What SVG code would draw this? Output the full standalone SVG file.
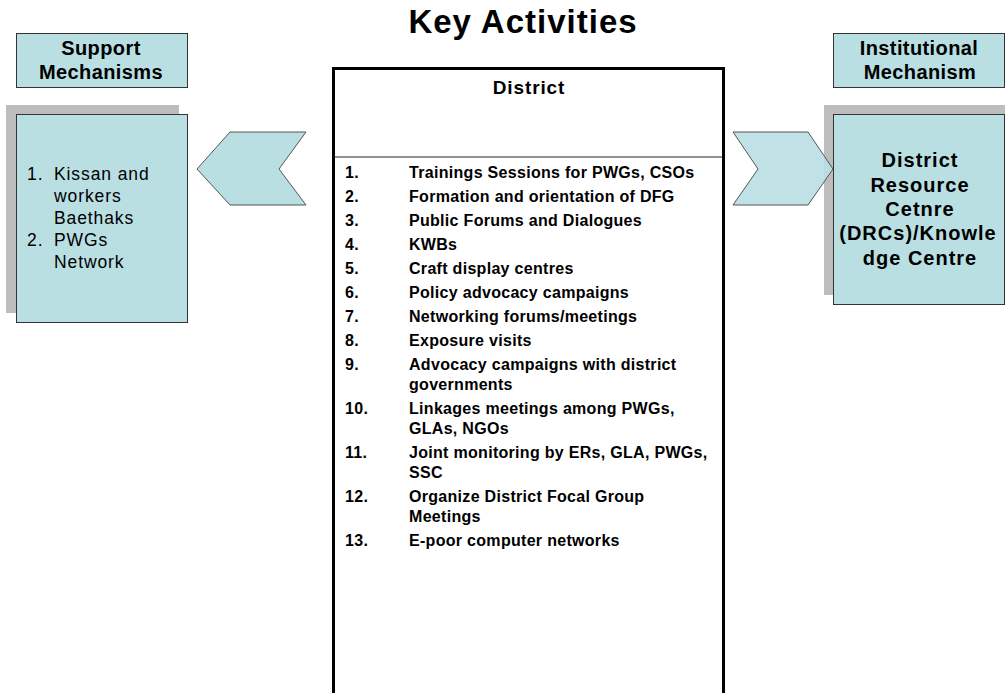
<svg xmlns="http://www.w3.org/2000/svg" width="1005" height="693" viewBox="0 0 1005 693">
  <style>
    text { font-family: "Liberation Sans", Arial, sans-serif; fill: #000; }
    .title { font-size: 33px; font-weight: bold; letter-spacing: 1px; }
    .hdr { font-size: 20px; font-weight: bold; letter-spacing: 0.4px; }
    .box { fill: #b9dfe3; stroke: #333; stroke-width: 1; }
    .shadow { fill: #bdbdbd; }
    .chev { fill: #b9dfe3; stroke: #555; stroke-width: 1; }
    .item { font-size: 16px; font-weight: bold; letter-spacing: 0.3px; }
    .side { font-size: 17.5px; letter-spacing: 0.9px; }
    .drc { font-size: 20px; font-weight: bold; letter-spacing: 1px; }
    .dist { font-size: 19px; font-weight: bold; letter-spacing: 0.9px; }
  </style>
  <rect width="1005" height="693" fill="#fff"/>

  <g id="title">
    <text class="title" x="523" y="33" text-anchor="middle">Key Activities</text>
  </g>

  <g id="support-header">
    <rect class="box" x="16.5" y="33.5" width="171" height="54"/>
    <text class="hdr" x="101" y="55" text-anchor="middle">Support</text>
    <text class="hdr" x="101" y="79" text-anchor="middle">Mechanisms</text>
  </g>

  <g id="institutional-header">
    <rect class="box" x="833.5" y="33.5" width="171" height="54"/>
    <text class="hdr" x="919" y="55" text-anchor="middle">Institutional</text>
    <text class="hdr" x="920" y="79" text-anchor="middle">Mechanism</text>
  </g>

  <g id="support-box">
    <rect class="shadow" x="6" y="105" width="173" height="208"/>
    <rect class="box" x="16.5" y="114.5" width="171" height="208"/>
    <text class="side" x="27" y="180">1.</text>
    <text class="side" x="54" y="180">Kissan and</text>
    <text class="side" x="54" y="202">workers</text>
    <text class="side" x="54" y="224">Baethaks</text>
    <text class="side" x="27" y="246">2.</text>
    <text class="side" x="54" y="246">PWGs</text>
    <text class="side" x="54" y="268">Network</text>
  </g>

  <g id="drc-box">
    <rect class="shadow" x="824" y="105" width="181" height="190"/>
  </g>

  <g id="connectors">
    <polygon class="chev" points="197,169 230,132 306,132 279,169 306,205 230,205"/>
    <polygon class="chev" points="733,132 808,132 833,169 808,205 733,205 758,169" fill-opacity="0.9"/>
  </g>

  <g id="drc-box-main">
    <rect class="box" x="833.5" y="114.5" width="171" height="190"/>
    <text class="drc" x="920" y="167" text-anchor="middle">District</text>
    <text class="drc" x="920" y="192" text-anchor="middle">Resource</text>
    <text class="drc" x="920" y="216" text-anchor="middle">Cetnre</text>
    <text class="drc" x="918" y="240" text-anchor="middle">(DRCs)/Knowle</text>
    <text class="drc" x="920" y="265" text-anchor="middle">dge Centre</text>
  </g>

  <g id="district-box">
    <rect x="333.5" y="68.5" width="390" height="640" fill="#fff" stroke="#000" stroke-width="3"/>
    <line x1="334" y1="157" x2="723" y2="157" stroke="#222" stroke-width="1"/>
    <text class="dist" x="529" y="94" text-anchor="middle">District</text>
    <g class="item">
      <text class="item" x="345" y="178">1.</text>
      <text class="item" x="409" y="178">Trainings Sessions for PWGs, CSOs</text>
      <text class="item" x="345" y="202">2.</text>
      <text class="item" x="409" y="202">Formation and orientation of DFG</text>
      <text class="item" x="345" y="226">3.</text>
      <text class="item" x="409" y="226">Public Forums and Dialogues</text>
      <text class="item" x="345" y="250">4.</text>
      <text class="item" x="409" y="250">KWBs</text>
      <text class="item" x="345" y="274">5.</text>
      <text class="item" x="409" y="274">Craft display centres</text>
      <text class="item" x="345" y="298">6.</text>
      <text class="item" x="409" y="298">Policy advocacy campaigns</text>
      <text class="item" x="345" y="322">7.</text>
      <text class="item" x="409" y="322">Networking forums/meetings</text>
      <text class="item" x="345" y="346">8.</text>
      <text class="item" x="409" y="346">Exposure visits</text>
      <text class="item" x="345" y="370">9.</text>
      <text class="item" x="409" y="370">Advocacy campaigns with district</text>
      <text class="item" x="409" y="390">governments</text>
      <text class="item" x="345" y="414">10.</text>
      <text class="item" x="409" y="414">Linkages meetings among PWGs,</text>
      <text class="item" x="409" y="434">GLAs, NGOs</text>
      <text class="item" x="345" y="458">11.</text>
      <text class="item" x="409" y="458">Joint monitoring by ERs, GLA, PWGs,</text>
      <text class="item" x="409" y="478">SSC</text>
      <text class="item" x="345" y="502">12.</text>
      <text class="item" x="409" y="502">Organize District Focal Group</text>
      <text class="item" x="409" y="522">Meetings</text>
      <text class="item" x="345" y="546">13.</text>
      <text class="item" x="409" y="546">E-poor computer networks</text>
    </g>
  </g>
</svg>
